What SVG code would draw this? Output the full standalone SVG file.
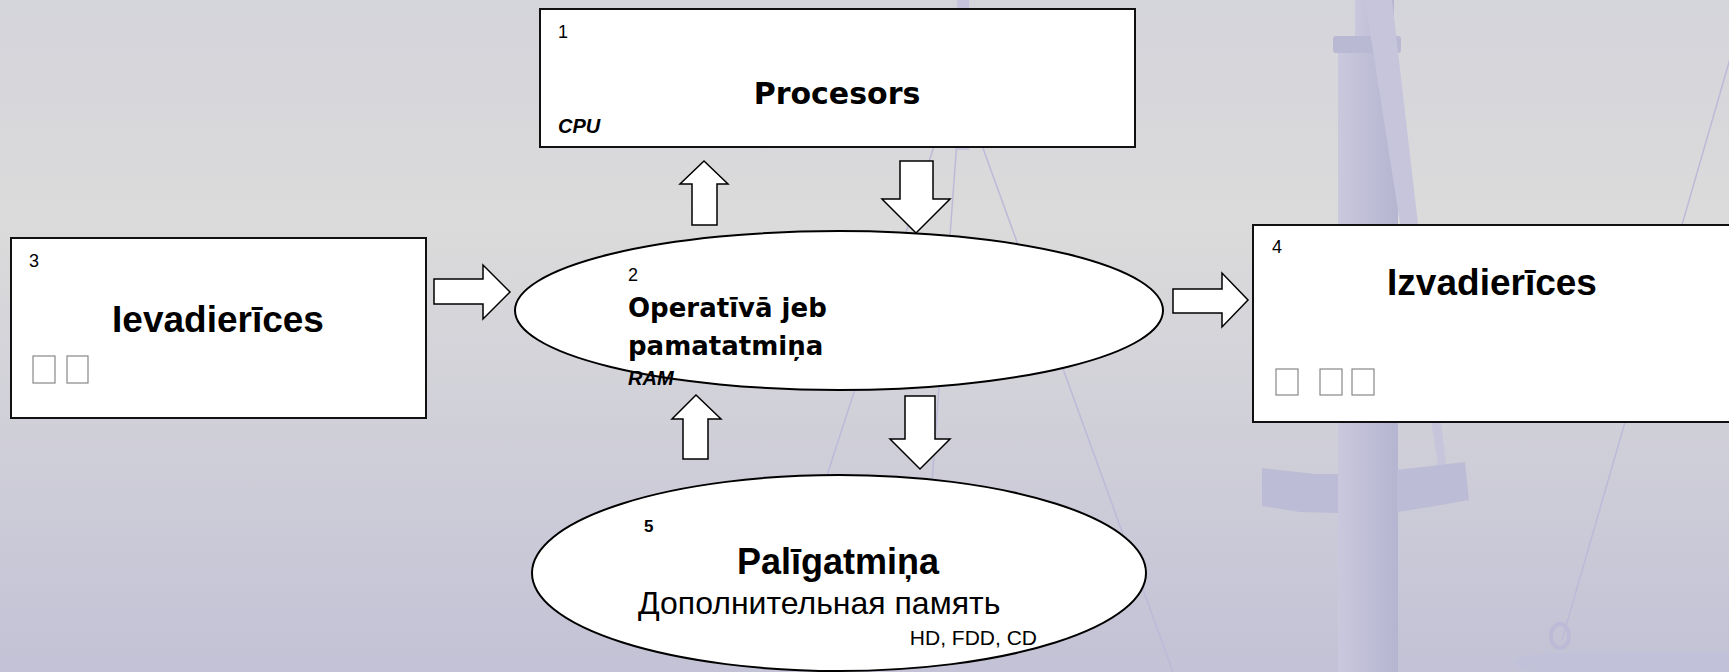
<svg xmlns="http://www.w3.org/2000/svg" width="1729" height="672" viewBox="0 0 1729 672">
<defs>
<linearGradient id="bg" x1="0" y1="0" x2="0" y2="1">
<stop offset="0" stop-color="#d4d4db"/>
<stop offset="0.33" stop-color="#dbdbdb"/>
<stop offset="1" stop-color="#c3c2d6"/>
</linearGradient>
<linearGradient id="mast" x1="0" y1="0" x2="1" y2="0">
<stop offset="0" stop-color="#c9c8dd"/>
<stop offset="1" stop-color="#b6b5d1"/>
</linearGradient>
<style>
.box{fill:#fff;stroke:#111;stroke-width:2}
.ell{fill:#fff;stroke:#000;stroke-width:2}
.arr{fill:#fff;stroke:#000;stroke-width:1.5;stroke-linejoin:miter}
.num{font-family:"Liberation Sans",Arial,sans-serif;font-size:18px;fill:#000}
.tag{font-family:"Liberation Sans",Arial,sans-serif;font-size:20px;font-weight:bold;font-style:italic;fill:#000}
.big{font-family:"Liberation Sans",Arial,sans-serif;font-size:37px;font-weight:bold;fill:#000}
.comic{font-family:"DejaVu Sans",sans-serif;font-weight:bold;fill:#000}
.tofu{fill:none;stroke:#888;stroke-width:1.2}
.rope{stroke:#bcbad8;stroke-width:1.5;fill:none}
</style>
</defs>
<rect x="0" y="0" width="1729" height="672" fill="url(#bg)"/>
<g id="background">
<rect x="957" y="0" width="12" height="150" fill="#c5c4dc"/>
<line class="rope" x1="936" y1="140" x2="780" y2="620"/>
<line class="rope" x1="957" y1="140" x2="922" y2="620"/>
<line class="rope" x1="980" y1="140" x2="1173" y2="672"/>
<line class="rope" x1="1747" y1="0" x2="1562" y2="640"/>
<rect x="1355" y="0" width="39" height="40" fill="url(#mast)"/>
<rect x="1338" y="50" width="60" height="622" fill="url(#mast)"/>
<rect x="1333" y="36" width="68" height="17" rx="3" fill="#bab9d3"/>
<polygon points="1365,0 1392,0 1446,465 1438,465" fill="#c6c5dc"/>
<polygon points="1262,468 1315,474 1338,474 1338,513 1300,512 1262,506" fill="#bdbcd6"/>
<polygon points="1397,470 1465,462 1469,500 1430,507 1397,512" fill="#bdbcd6"/>
<ellipse cx="1560" cy="636" rx="9" ry="12" fill="none" stroke="#bcbad6" stroke-width="4"/>
<path d="M1513,663 Q1520,653 1560,653 L1729,652 L1729,672 L1540,672 Q1515,670 1513,663 Z" fill="#c2c1da"/>
</g>
<g id="node-1">
<rect class="box" x="540" y="9" width="595" height="138"/>
<text class="num" x="558" y="38">1</text>
<text class="comic" x="837" y="104" font-size="30" text-anchor="middle">Procesors</text>
<text class="tag" x="558" y="133">CPU</text>
</g>
<g id="node-2">
<ellipse class="ell" cx="839" cy="310.5" rx="324" ry="79.5"/>
<text class="num" x="628" y="281">2</text>
<text class="comic" x="628" y="317" font-size="26">Operatīvā jeb</text>
<text class="comic" x="628" y="355" font-size="26">pamatatmiņa</text>
<text class="tag" x="628" y="385">RAM</text>
</g>
<g id="node-3">
<rect class="box" x="11" y="238" width="415" height="180"/>
<text class="num" x="29" y="267">3</text>
<text class="big" x="218" y="332" text-anchor="middle">Ievadierīces</text>
<rect class="tofu" x="33" y="356" width="22" height="27"/>
<rect class="tofu" x="67" y="356" width="21" height="27"/>
</g>
<g id="node-4">
<rect class="box" x="1253" y="225" width="480" height="197"/>
<text class="num" x="1272" y="253">4</text>
<text class="big" x="1492" y="295" text-anchor="middle">Izvadierīces</text>
<rect class="tofu" x="1276" y="369" width="22" height="26"/>
<rect class="tofu" x="1320" y="369" width="22" height="26"/>
<rect class="tofu" x="1352" y="369" width="22" height="26"/>
</g>
<g id="node-5">
<ellipse class="ell" cx="839" cy="573" rx="307" ry="98"/>
<text x="644" y="532" font-family="Liberation Sans, Arial, sans-serif" font-size="17" font-weight="bold">5</text>
<text class="big" x="838" y="574" text-anchor="middle" style="font-size:36px">Palīgatmiņa</text>
<text x="638" y="614" font-family="Liberation Sans, Arial, sans-serif" font-size="32">Дополнительная память</text>
<text x="1037" y="645" font-family="Liberation Sans, Arial, sans-serif" font-size="21" text-anchor="end">HD, FDD, CD</text>
</g>
<g id="connectors">
<path class="arr" d="M692,225 L692,184 L680,184 L704,161 L728,184 L717,184 L717,225 Z"/>
<path class="arr" d="M900,161 L933,161 L933,199 L950,199 L916,233 L882,199 L900,199 Z"/>
<path class="arr" d="M434,279 L483,279 L483,265 L510,292 L483,319 L483,304 L434,304 Z"/>
<path class="arr" d="M1173,289 L1222,289 L1222,273 L1248,300 L1222,327 L1222,313 L1173,313 Z"/>
<path class="arr" d="M683,459 L683,419 L672,419 L696,395 L721,419 L708,419 L708,459 Z"/>
<path class="arr" d="M905,396 L935,396 L935,439 L950,439 L920,469 L890,439 L905,439 Z"/>
</g>
</svg>
